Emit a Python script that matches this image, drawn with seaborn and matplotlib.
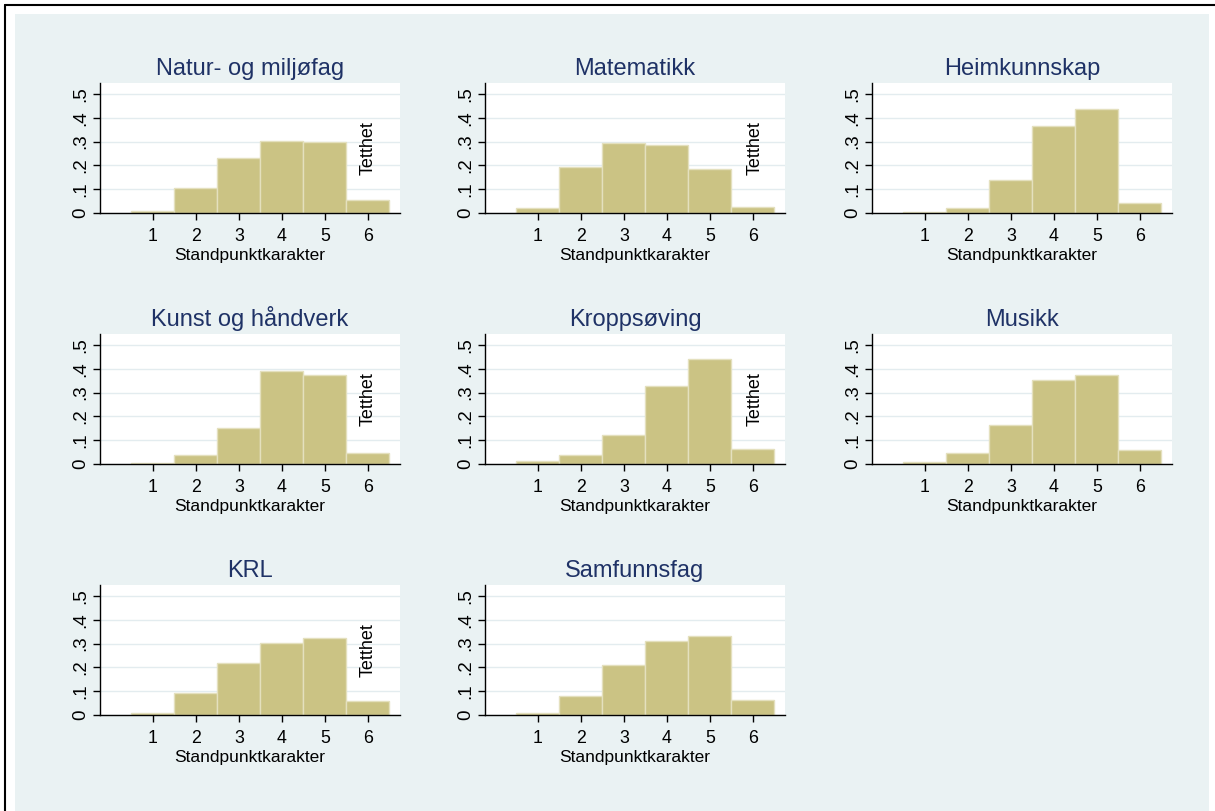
import numpy as np
import pandas as pd
import matplotlib.pyplot as plt
import seaborn as sns
from matplotlib.patches import Rectangle
from matplotlib.lines import Line2D

# Data: tetthet (density) per standpunktkarakter
grades = [1, 2, 3, 4, 5, 6]
titles = ['Natur- og miljøfag', 'Matematikk', 'Heimkunnskap',
          'Kunst og håndverk', 'Kroppsøving', 'Musikk',
          'KRL', 'Samfunnsfag']
natur = [0.008, 0.104, 0.231, 0.303, 0.300, 0.052]
matematikk = [0.017, 0.194, 0.296, 0.287, 0.182, 0.025]
heimkunnskap = [0.004, 0.017, 0.137, 0.365, 0.439, 0.042]
kunst = [0.004, 0.034, 0.151, 0.393, 0.376, 0.045]
kropp = [0.010, 0.034, 0.120, 0.328, 0.442, 0.061]
musikk = [0.006, 0.045, 0.163, 0.354, 0.376, 0.056]
krl = [0.008, 0.092, 0.217, 0.303, 0.323, 0.056]
samfunn = [0.006, 0.079, 0.211, 0.310, 0.331, 0.062]
series = [natur, matematikk, heimkunnskap, kunst, kropp, musikk, krl, samfunn]
yticks = [0, 0.1, 0.2, 0.3, 0.4, 0.5]
ytick_labels = ['0', '.1', '.2', '.3', '.4', '.5']

sns.set_theme(style='white')
plt.rcParams['font.family'] = ['Liberation Sans', 'DejaVu Sans']

W, H = 1215, 811
fig = plt.figure(figsize=(W / 100, H / 100), dpi=100, facecolor='white')

# Stata-like graph region and outer border (kept below the axes)
fig.patches.append(Rectangle((15 / W, 0), (1209 - 15) / W, (H - 14) / H,
                             transform=fig.transFigure, facecolor='#EAF2F3',
                             edgecolor='none', zorder=-2))
fig.add_artist(Line2D([5 / W, 5 / W], [0, (H - 5) / H], color='black', lw=1.5, zorder=-1))
fig.add_artist(Line2D([5 / W, 1], [(H - 5) / H, (H - 5) / H], color='black', lw=1.5, zorder=-1))

bar_color = '#CBC384'
edge_color = '#E4E0BE'
grid_color = '#E3ECEF'
title_color = '#1F3266'

lefts = [100, 485, 872]
tops = [83, 334, 585]
ax_w, ax_h = 300, 129.5

for i, (title, vals) in enumerate(zip(titles, series)):
    r, c = divmod(i, 3)
    ax = fig.add_axes([lefts[c] / W, (H - tops[r] - ax_h) / H, ax_w / W, ax_h / H])
    ax.set_facecolor('white')
    sns.histplot(x=grades, weights=vals, discrete=True, ax=ax,
                 color=bar_color, edgecolor=edge_color, linewidth=1, alpha=1)
    ax.set_xlim(-0.23, 6.75)
    ax.set_ylim(0, 0.548)
    ax.set_xticks(grades)
    ax.set_yticks(yticks)
    ax.set_yticklabels(ytick_labels)
    ax.yaxis.grid(True, color=grid_color, lw=1)
    ax.xaxis.grid(False)
    ax.set_axisbelow(True)
    for side in ['top', 'right']:
        ax.spines[side].set_visible(False)
    for side in ['left', 'bottom']:
        ax.spines[side].set_color('black')
        ax.spines[side].set_linewidth(1)
    ax.tick_params(axis='both', which='major', length=5, width=1, color='black',
                   labelcolor='black', bottom=True, left=True)
    ax.tick_params(axis='x', pad=6, labelsize=12.8)
    ax.tick_params(axis='y', pad=3, labelrotation=90, labelsize=13.5)
    for lab in ax.get_yticklabels():
        lab.set_va('center')
    ax.set_title(title, color=title_color, fontsize=17, pad=5.5)
    ax.set_xlabel('Standpunktkarakter', fontsize=12.5, labelpad=2, color='black')
    # ytitle sits far left, as in the Stata export (lands inside the neighbour panel);
    # in the first column it would fall off the figure, so it is left out there
    if c > 0:
        ax.set_ylabel('Tetthet', fontsize=13, color='black')
        ax.yaxis.set_label_coords(-0.362, 0.5)
    else:
        ax.set_ylabel('')

fig.savefig('out.png', dpi=100, facecolor='white')
